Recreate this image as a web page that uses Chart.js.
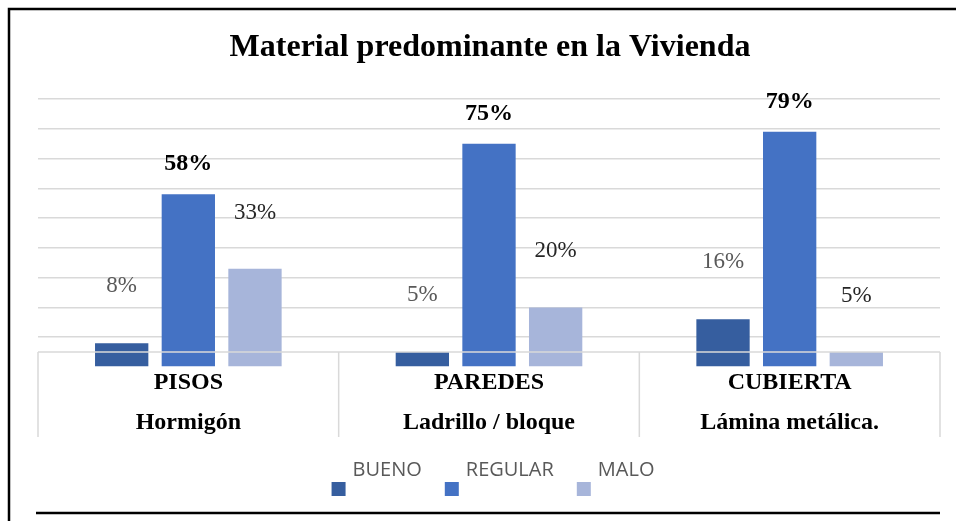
<!DOCTYPE html>
<html>
<head>
<meta charset="utf-8">
<script src="https://cdn.jsdelivr.net/npm/chart.js@4.4.1/dist/chart.umd.min.js"></script>
<style>
  html, body { margin: 0; padding: 0; background: #fff; }
  #caja { width: 956px; height: 521px; position: relative; }
</style>
</head>
<body>
<div id="caja"><canvas id="grafico"></canvas></div>
<script>
// datos
var categorias = [["PISOS", "Hormigón"], ["PAREDES", "Ladrillo / bloque"], ["CUBIERTA", "Lámina metálica."]];
var series     = ["BUENO", "REGULAR", "MALO"];
var bueno      = [8, 5, 16];
var regular    = [58, 75, 79];
var malo       = [33, 20, 5];
var titulo     = "Material predominante en la Vivienda";

var colores    = ["#365E9F", "#4472C4", "#A7B5DA"];
var serif      = "'Liberation Serif', 'Times New Roman', serif";

// Etiquetas de datos (posicion por serie, como en el original)
var etiquetasPlugin = {
  id: "etiquetas",
  afterDatasetsDraw: function(chart) {
    var ctx = chart.ctx;
    var estilos = [
      { font: "normal 23px " + serif, color: "#595959", sube: 57 },
      { font: "bold 24px " + serif,   color: "#000000", sube: 30 },
      { font: "normal 23px " + serif, color: "#262626", sube: 56 }
    ];
    ctx.save();
    ctx.textAlign = "center";
    ctx.textBaseline = "middle";
    chart.data.datasets.forEach(function(ds, i) {
      var meta = chart.getDatasetMeta(i);
      meta.data.forEach(function(bar, j) {
        ctx.font = estilos[i].font;
        ctx.fillStyle = estilos[i].color;
        ctx.fillText(ds.data[j] + "%", bar.x, bar.y - estilos[i].sube);
      });
    });
    ctx.restore();
  }
};

// Marco, titulo, cajas del eje de categorias y leyenda
var marcoPlugin = {
  id: "marco",
  beforeDraw: function(chart) {
    var ctx = chart.ctx;
    ctx.save();
    ctx.fillStyle = "#fff";
    ctx.fillRect(0, 0, chart.width, chart.height);
    ctx.restore();
  },
  afterDraw: function(chart) {
    var ctx = chart.ctx;
    var area = chart.chartArea;
    var y = chart.scales.y;
    ctx.save();

    // marco negro
    ctx.strokeStyle = "#000";
    ctx.lineWidth = 2.5;
    ctx.beginPath();
    ctx.moveTo(chart.width, 9);
    ctx.lineTo(9, 9);
    ctx.lineTo(9, chart.height);
    ctx.moveTo(36, 513);
    ctx.lineTo(area.right, 513);
    ctx.stroke();

    // titulo
    ctx.fillStyle = "#000";
    ctx.font = "bold 32px " + serif;
    ctx.textAlign = "center";
    ctx.textBaseline = "middle";
    ctx.fillText(titulo, (area.left + area.right) / 2 + 1, 48);

    // cajas de categorias
    var arriba = y.getPixelForValue(5);
    var abajo = 437;
    ctx.strokeStyle = "#d9d9d9";
    ctx.lineWidth = 1.5;
    ctx.beginPath();
    ctx.moveTo(area.left, arriba);
    ctx.lineTo(area.right, arriba);
    var ancho = (area.right - area.left) / categorias.length;
    for (var k = 0; k <= categorias.length; k++) {
      var px = area.left + ancho * k;
      ctx.moveTo(px, arriba);
      ctx.lineTo(px, abajo);
    }
    ctx.stroke();

    // leyenda
    ctx.font = "20px 'Open Sans', sans-serif";
    ctx.textAlign = "left";
    var anchos = series.map(function(s) { return ctx.measureText(s).width; });
    var total = 0;
    anchos.forEach(function(w, i) { total += 21 + w + (i < anchos.length - 1 ? 23 : 0); });
    var lx = (area.left + area.right) / 2 + 4 - total / 2;
    series.forEach(function(s, i) {
      ctx.fillStyle = colores[i];
      ctx.fillRect(lx, 482, 14, 14);
      ctx.fillStyle = "#595959";
      ctx.fillText(s, lx + 21, 470);
      lx += 21 + anchos[i] + 23;
    });
    ctx.restore();
  }
};

var datos = [bueno, regular, malo];

new Chart(document.getElementById("grafico"), {
  type: "bar",
  data: {
    labels: categorias,
    datasets: series.map(function(s, i) {
      return {
        label: s,
        data: datos[i],
        backgroundColor: colores[i],
        borderWidth: 0,
        categoryPercentage: 0.665,
        barPercentage: 0.8
      };
    })
  },
  options: {
    responsive: true,
    maintainAspectRatio: false,
    animation: false,
    layout: { padding: { left: 38, right: 16, top: 99, bottom: 64 } },
    plugins: {
      legend: { display: false },
      title: { display: false },
      tooltip: { enabled: false }
    },
    scales: {
      x: {
        grid: { display: false },
        border: { display: false },
        ticks: {
          autoSkip: false,
          maxRotation: 0,
          padding: -13,
          color: "#000",
          font: { family: serif, size: 24, weight: "bold", lineHeight: 1.7 }
        },
        afterFit: function(s) { s.height = 90; }
      },
      y: {
        min: 0,
        max: 90,
        ticks: { display: false, stepSize: 10 },
        border: { display: false },
        grid: {
          drawTicks: false,
          lineWidth: 1.5,
          color: function(c) { return c.tick && c.tick.value === 0 ? "rgba(0,0,0,0)" : "#d9d9d9"; }
        },
        afterFit: function(s) { s.width = 0; }
      }
    }
  },
  plugins: [marcoPlugin, etiquetasPlugin]
});
</script>
</body>
</html>
